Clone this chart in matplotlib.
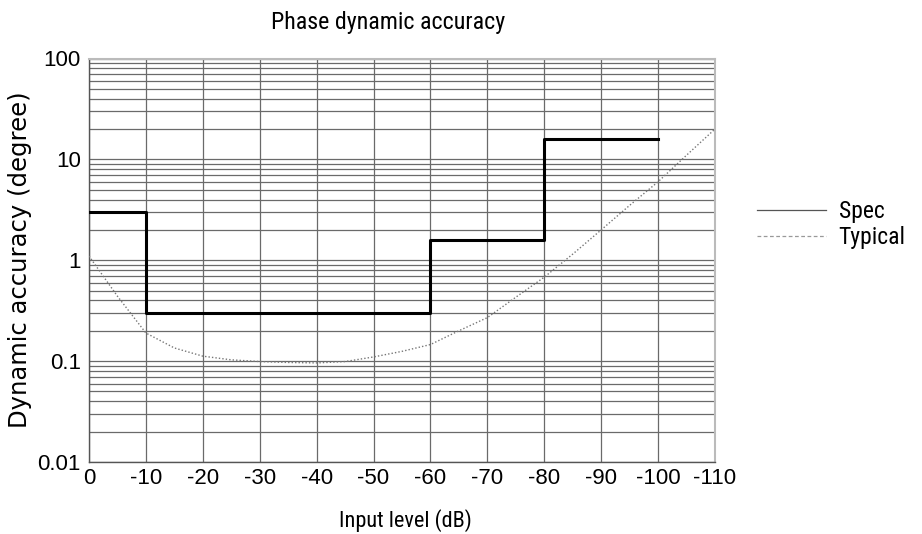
import matplotlib
matplotlib.use("Agg")
import matplotlib.pyplot as plt
from matplotlib.lines import Line2D
from matplotlib.ticker import LogLocator, FixedLocator, NullFormatter

# Data
spec_edges = [0, -10, -60, -80, -100]
spec_values = [3, 0.3, 1.6, 16, 16]

typical_x = [0, -5, -10, -15, -20, -25, -30, -35, -40, -45, -50, -55, -60,
             -65, -70, -75, -80, -85, -90, -95, -100, -105, -110]
typical_y = [1.1, 0.44, 0.19, 0.135, 0.112, 0.103, 0.099, 0.097, 0.096, 0.099,
             0.11, 0.125, 0.146, 0.2, 0.27, 0.43, 0.68, 1.15, 2.0, 3.5, 6.0,
             11.0, 20.0]

x_ticks = [0, -10, -20, -30, -40, -50, -60, -70, -80, -90, -100, -110]
x_tick_labels = ["0", "-10", "-20", "-30", "-40", "-50", "-60", "-70", "-80",
                 "-90", "-100", "-110"]
y_ticks = [0.01, 0.1, 1, 10, 100]
y_tick_labels = ["0.01", "0.1", "1", "10", "100"]

title = "Phase dynamic accuracy"
xlabel = "Input level (dB)"
ylabel = "Dynamic accuracy (degree)"

cond = ["Roboto Condensed", "DejaVu Sans"]
plain = ["Liberation Sans", "DejaVu Sans"]

fig = plt.figure(figsize=(9.22, 5.34), dpi=100)
ax = fig.add_axes([89 / 922, 1 - 462 / 534, (715 - 89) / 922, (462 - 58.5) / 534])

ax.set_yscale("log")
ax.set_xlim(0, -110)
ax.set_ylim(0.01, 100)

ax.xaxis.set_major_locator(FixedLocator(x_ticks))
ax.set_xticklabels(x_tick_labels, family=plain, fontsize=16)
ax.yaxis.set_major_locator(FixedLocator(y_ticks))
ax.set_yticklabels(y_tick_labels, family=plain, fontsize=16)
ax.yaxis.set_minor_locator(LogLocator(base=10, subs=range(2, 10)))
ax.yaxis.set_minor_formatter(NullFormatter())
ax.tick_params(which="both", length=0)
ax.tick_params(axis="x", pad=4)
ax.tick_params(axis="y", pad=6)

grid_c = "#6a6a6a"
ax.grid(True, which="major", axis="both", color=grid_c, lw=0.9)
ax.grid(True, which="minor", axis="y", color=grid_c, lw=0.9)
ax.set_axisbelow(True)

for s in ["left", "bottom"]:
    ax.spines[s].set_color("#555555")
    ax.spines[s].set_linewidth(1.0)
for s in ["top", "right"]:
    ax.spines[s].set_color("#bbbbbb")
    ax.spines[s].set_linewidth(1.5)

ax.step(spec_edges, spec_values, where="post", color="black", lw=2.2, zorder=3)
ax.plot(typical_x, typical_y, color="#777777", lw=1.0, linestyle=(0, (1, 1.5)), zorder=3)

fig.text(388 / 922, 1 - 22 / 534, title, family=cond, fontsize=17.3, ha="center", va="center")
fig.text(405 / 922, 1 - 521 / 534, xlabel, family=cond, fontsize=16, ha="center", va="center")
fig.text(20 / 922, 1 - 260 / 534, ylabel, family=["DejaVu Sans"], fontsize=17.5,
         ha="center", va="center", rotation=90)

handles = [Line2D([0], [0], color="#555555", lw=0.9),
           Line2D([0], [0], color="#999999", lw=0.9, linestyle=(0, (3, 2)))]
leg = fig.legend(handles, ["Spec", "Typical"], loc="center left",
                 bbox_to_anchor=(736 / 922, 1 - 224.5 / 534), frameon=False,
                 prop={"family": cond, "size": 17}, handlelength=2.9,
                 handletextpad=0.55, labelspacing=0.12)

fig.savefig("out.png", dpi=100)
